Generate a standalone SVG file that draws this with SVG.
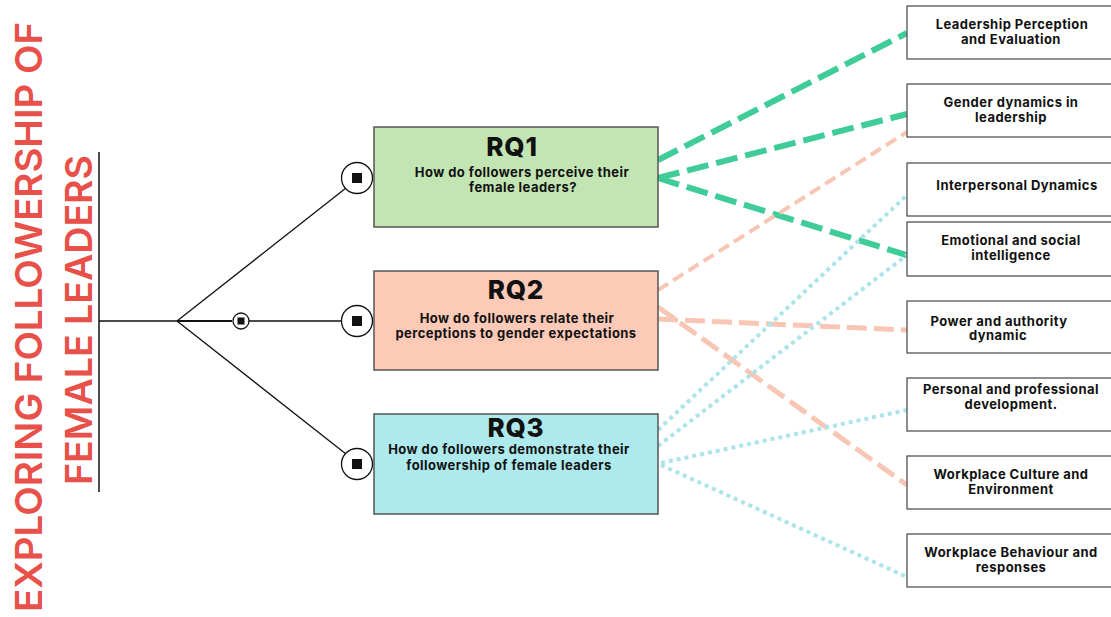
<svg xmlns="http://www.w3.org/2000/svg" width="1111" height="617" viewBox="0 0 1111 617">
<style>
.title{font-family:Inter,"Liberation Sans",sans-serif;font-weight:600;fill:#e8504a;font-size:37px}
.rq{font-family:Inter,"Liberation Sans",sans-serif;font-weight:800;font-size:26px;fill:#111;text-anchor:middle;letter-spacing:0.8px}
.q{font-family:Inter,"Liberation Sans",sans-serif;font-weight:700;font-size:13px;fill:#111;text-anchor:middle;letter-spacing:0.45px}
.lab{font-family:Inter,"Liberation Sans",sans-serif;font-weight:700;font-size:13px;fill:#111;text-anchor:middle;letter-spacing:0.45px}
.box{stroke:#555;stroke-width:1.5}
.rbox{fill:#fff;stroke:#444;stroke-width:1.2}
.tree{stroke:#111;stroke-width:1.3;fill:none}
.knob{fill:#fff;stroke:#111;stroke-width:1.3}
.g{stroke:#3fcc98;stroke-width:6;stroke-dasharray:22 8;fill:none}
.s1{stroke:#f8c6b4;stroke-width:4;stroke-dasharray:12 6;fill:none}
.s2{stroke:#f8c6b4;stroke-width:5;stroke-dasharray:20 7;fill:none}
.b{stroke:#ace4ea;stroke-width:4;stroke-dasharray:4 4;fill:none}
</style>
<g id="title">
<text class="title" transform="translate(42,317) rotate(-90)" text-anchor="middle" textLength="590" lengthAdjust="spacingAndGlyphs">EXPLORING FOLLOWERSHIP OF</text>
<text class="title" transform="translate(92,320) rotate(-90)" text-anchor="middle" textLength="330" lengthAdjust="spacingAndGlyphs">FEMALE LEADERS</text>
<line x1="99" y1="152" x2="99" y2="492" stroke="#111" stroke-width="1.5"/>
</g>
<g id="tree">
<line class="tree" x1="99" y1="321" x2="177" y2="321"/>
<line class="tree" x1="177" y1="321" x2="346" y2="188"/>
<line x1="177" y1="321" x2="232" y2="321" stroke="#111" stroke-width="2.2"/>
<line class="tree" x1="248" y1="321" x2="342" y2="321"/>
<line class="tree" x1="177" y1="321" x2="346" y2="454"/>
<circle class="knob" cx="241" cy="321" r="8"/>
<rect x="237.5" y="317.5" width="7" height="7" fill="#111"/>
<circle class="knob" cx="357" cy="178" r="15.5"/>
<rect x="352" y="173" width="10" height="10" fill="#111"/>
<circle class="knob" cx="357" cy="321" r="15.5"/>
<rect x="352" y="316" width="10" height="10" fill="#111"/>
<circle class="knob" cx="357" cy="464" r="15.5"/>
<rect x="352" y="459" width="10" height="10" fill="#111"/>
</g>
<g id="connectors">
<line class="g" x1="658" y1="160" x2="907" y2="33"/>
<line class="g" x1="658" y1="178" x2="907" y2="114"/>
<line class="g" x1="658" y1="178" x2="916" y2="258"/>
<line class="s1" x1="658" y1="290" x2="907" y2="132"/>
<line class="s2" x1="658" y1="319" x2="907" y2="330"/>
<line class="s2" x1="658" y1="307" x2="907" y2="485"/>
<line class="b" x1="658" y1="430" x2="907" y2="195"/>
<line class="b" x1="658" y1="446" x2="907" y2="255"/>
<line class="b" x1="661" y1="463" x2="907" y2="410"/>
<line class="b" x1="661" y1="465" x2="907" y2="577"/>
</g>
<g id="rq1">
<rect class="box" x="374" y="127" width="284" height="100" fill="#c3e5b4"/>
<text class="rq" x="512" y="156">RQ1</text>
<text class="q" x="522" y="177">How do followers perceive their</text>
<text class="q" x="523" y="192">female leaders?</text>
</g>
<g id="rq2">
<rect class="box" x="374" y="271" width="284" height="99" fill="#fdcab8"/>
<text class="rq" x="516" y="299">RQ2</text>
<text class="q" x="517" y="323">How do followers relate their</text>
<text class="q" x="516" y="338">perceptions to gender expectations</text>
</g>
<g id="rq3">
<rect class="box" x="374" y="414" width="284" height="100" fill="#aeeaed"/>
<text class="rq" x="516" y="437">RQ3</text>
<text class="q" x="509" y="454">How do followers demonstrate their</text>
<text class="q" x="509" y="470">followership of female leaders</text>
</g>
<g id="n1"><rect class="rbox" x="907" y="6" width="210" height="53"/><text class="lab" x="1012" y="29">Leadership Perception</text><text class="lab" x="1011" y="44">and Evaluation</text></g>
<g id="n2"><rect class="rbox" x="907" y="84" width="210" height="53"/><text class="lab" x="1011" y="107">Gender dynamics in</text><text class="lab" x="1011" y="122">leadership</text></g>
<g id="n3"><rect class="rbox" x="907" y="163" width="210" height="53"/><text class="lab" x="1017" y="190">Interpersonal Dynamics</text></g>
<g id="n4"><rect class="rbox" x="907" y="222" width="210" height="54"/><text class="lab" x="1011" y="245">Emotional and social</text><text class="lab" x="1011" y="260">intelligence</text></g>
<g id="n5"><rect class="rbox" x="907" y="301" width="210" height="52"/><text class="lab" x="999" y="326">Power and authority</text><text class="lab" x="998" y="340">dynamic</text></g>
<g id="n6"><rect class="rbox" x="907" y="378" width="210" height="53"/><text class="lab" x="1011" y="394">Personal and professional</text><text class="lab" x="1011" y="409">development.</text></g>
<g id="n7"><rect class="rbox" x="907" y="456" width="210" height="53"/><text class="lab" x="1011" y="479">Workplace Culture and</text><text class="lab" x="1011" y="494">Environment</text></g>
<g id="n8"><rect class="rbox" x="907" y="534" width="210" height="53"/><text class="lab" x="1011" y="557">Workplace Behaviour and</text><text class="lab" x="1011" y="572">responses</text></g>
</svg>
